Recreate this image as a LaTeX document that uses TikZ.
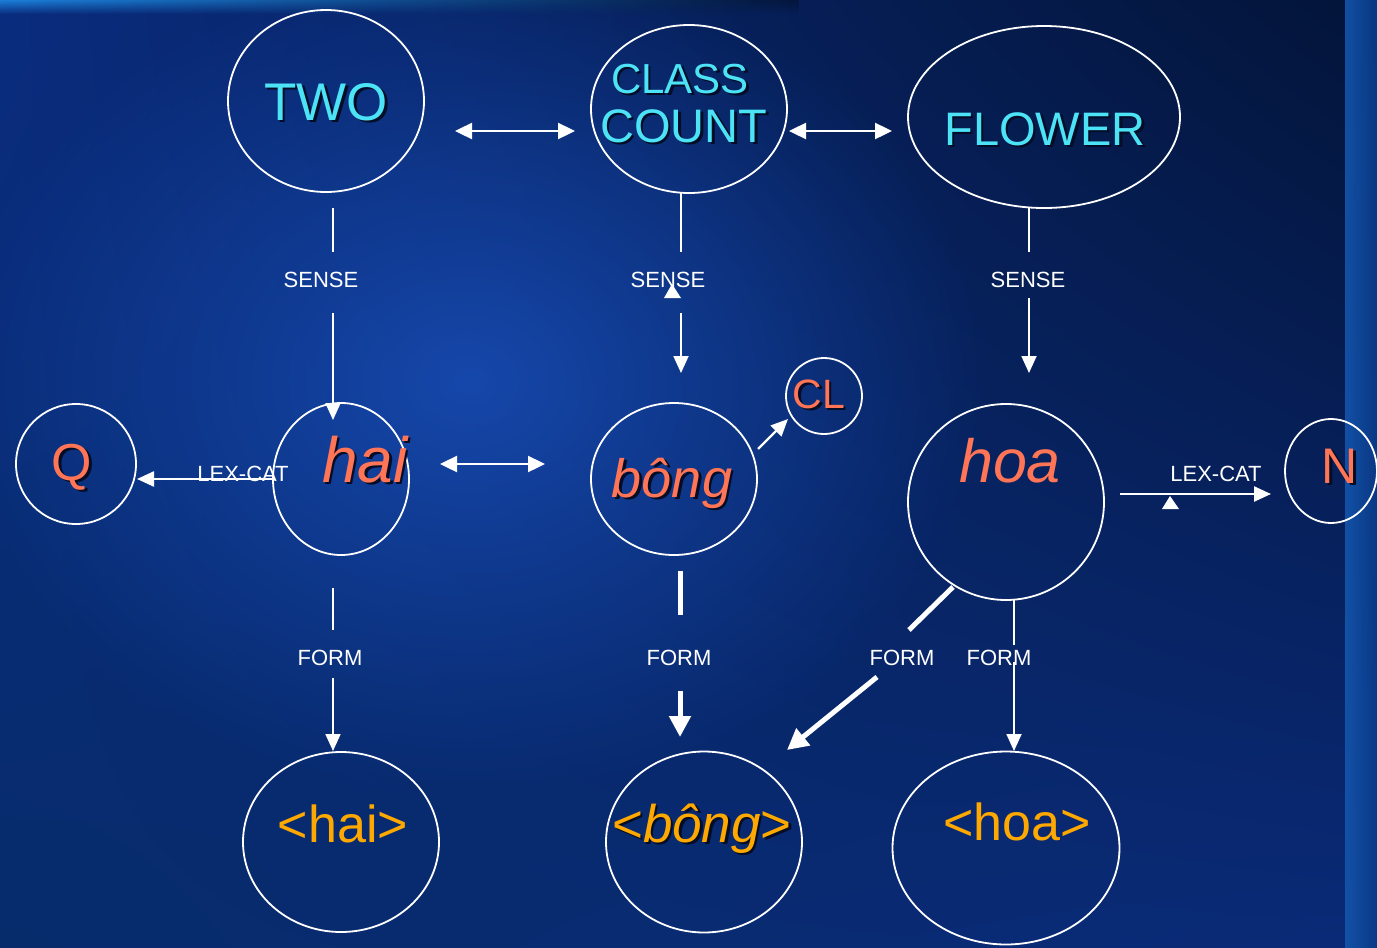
\documentclass[tikz,border=0pt]{standalone}
\usepackage{fontspec}
\setmainfont{Liberation Sans}
\usetikzlibrary{shapes.geometric,arrows.meta,shadings,fadings}
\definecolor{cyant}{HTML}{4DE3F7}
\definecolor{coral}{HTML}{FF7556}
\definecolor{amber}{HTML}{FFA800}
\definecolor{shadowc}{HTML}{040C26}
\definecolor{bgUL}{HTML}{0A2C7E}
\definecolor{bgUR}{HTML}{031438}
\definecolor{bgLL}{HTML}{072C6C}
\definecolor{bgLR}{HTML}{0A2A78}
\definecolor{glow}{HTML}{1A52C0}
\definecolor{topstrip}{HTML}{1E8CE8}
\definecolor{rightstrip}{HTML}{1456AE}
\definecolor{rightstripB}{HTML}{0A3A88}
\tikzfading[name=myglow, inner color=transparent!0, outer color=transparent!100]
\newcommand\shd[1]{\makebox[0pt][l]{\hspace{2.5pt}\raisebox{-2.5pt}{\textcolor{shadowc}{#1}}}#1}
\newcommand\fs[1]{\fontsize{#1}{#1}\selectfont}
\tikzset{
  oval/.style={ellipse, draw=white, line width=1.8pt, inner sep=0pt},
  lbl/.style={text=white, font=\fs{22}, anchor=base, inner sep=0pt},
  word/.style={anchor=base, inner sep=0pt},
  conn/.style={draw=white, line width=2.4pt},
  thin conn/.style={draw=white, line width=1.8pt},
  thick conn/.style={draw=white, line width=5pt},
  tip/.style={-{Triangle[length=17pt,width=15pt]}},
  bitip/.style={{Triangle[length=17pt,width=16pt]}-{Triangle[length=17pt,width=16pt]}},
  bigtip/.style={-{Triangle[length=21pt,width=21pt]}},
}
\begin{document}
\begin{tikzpicture}[x=1pt,y=-1pt]
\useasboundingbox (0,0) rectangle (1377,948);
% background
\shade[upper left=bgUL, upper right=bgUR, lower left=bgLL, lower right=bgLR] (0,0) rectangle (1377,948);
\fill[glow, opacity=0.75, path fading=myglow] (470,380) ellipse (520 and 420);
\shade[left color=topstrip, right color=bgUR, opacity=0.85, path fading=south] (0,0) rectangle (800,14);
\shade[left color=rightstrip, right color=rightstripB, opacity=0.9] (1345,0) rectangle (1377,948);

% ellipses
\node[oval, minimum width=196pt, minimum height=182pt] (TWO) at (326,101) {};
\node[oval, minimum width=196pt, minimum height=168pt] (CC) at (689,109) {};
\node[oval, minimum width=272pt, minimum height=182pt] (FLOWER) at (1044,117) {};
\node[oval, minimum width=120pt, minimum height=120pt] (Q) at (76,464) {};
\node[oval, minimum width=136pt, minimum height=152pt] (hai) at (341,479) {};
\node[oval, minimum width=166pt, minimum height=152pt] (bong) at (674,479) {};
\node[oval, minimum width=76pt, minimum height=76pt] (CL) at (824,396) {};
\node[oval, minimum width=196pt, minimum height=196pt] (hoa) at (1006,502) {};
\node[oval, minimum width=92pt, minimum height=104pt] (N) at (1331,471) {};
\node[oval, minimum width=196pt, minimum height=180pt] (fhai) at (341,842) {};
\node[oval, minimum width=196pt, minimum height=181pt] (fbong) at (704,842) {};
\node[oval, minimum width=227pt, minimum height=193pt] (fhoa) at (1006,848) {};

% texts
\node[word, text=cyant, font=\fs{53}] (tTWO) at (326,120) {\shd{TWO}};
\node[word, text=cyant, font=\fs{42}] (tCLASS) at (680,93) {\shd{CLASS}};
\node[word, text=cyant, font=\fs{47}] (tCOUNT) at (684,142) {\shd{COUNT}};
\node[word, text=cyant, font=\fs{47}] (tFLOWER) at (1045,145) {\shd{FLOWER}};
\node[word, text=coral, font=\fs{52}] (tQ) at (72,480) {\shd{Q}};
\node[word, text=coral, font=\itshape\fs{64}] (thai) at (365,482) {\shd{hai}};
\node[word, text=coral, font=\itshape\fs{54}] (tbong) at (672,497) {\shd{bông}};
\node[word, text=coral, font=\fs{41}] (tCL) at (819,408) {\shd{CL}};
\node[word, text=coral, font=\itshape\fs{61}] (thoa) at (1010,482) {hoa};
\node[word, text=coral, font=\fs{50}] (tN) at (1340,483) {\shd{N}};
\node[word, text=amber, font=\fs{52}] (tfhai) at (343,842) {<hai>};
\node[word, text=amber, font=\fs{53}] (tfbong) at (702,842) {\shd{<\textit{bông}>}};
\node[word, text=amber, font=\fs{52}] (tfhoa) at (1017,840) {<hoa>};

% relation labels
\node[lbl] (s1) at (321,287) {SENSE};
\node[lbl] (s2) at (668,287) {SENSE};
\node[lbl] (s3) at (1028,287) {SENSE};
\node[lbl] (lc1) at (243,481) {LEX-CAT};
\node[lbl] (lc2) at (1216,481) {LEX-CAT};
\node[lbl] (f1) at (330,665) {FORM};
\node[lbl] (f2) at (679,665) {FORM};
\node[lbl] (f3) at (902,665) {FORM};
\node[lbl] (f4) at (999,665) {FORM};

% coordinates for connector ends
\coordinate (a1) at (455,131); \coordinate (a2) at (575,131);
\coordinate (b1) at (789,131); \coordinate (b2) at (892,131);
\coordinate (s1a) at (333,208); \coordinate (s1b) at (333,252);
\coordinate (s1c) at (333,313); \coordinate (s1d) at (333,420);
\coordinate (s2a) at (681,193); \coordinate (s2b) at (681,252);
\coordinate (s2c) at (681,313); \coordinate (s2d) at (681,373);
\coordinate (s3a) at (1029,208); \coordinate (s3b) at (1029,252);
\coordinate (s3c) at (1029,298); \coordinate (s3d) at (1029,373);
\coordinate (q1) at (273,479); \coordinate (q2) at (137,479);
\coordinate (hb1) at (440,464); \coordinate (hb2) at (545,464);
\coordinate (cl1) at (758,449); \coordinate (cl2) at (788,419);
\coordinate (n1) at (1120,494); \coordinate (n2) at (1271,494);
\coordinate (f1a) at (333,588); \coordinate (f1b) at (333,630);
\coordinate (f1c) at (333,678); \coordinate (f1d) at (333,751);
\coordinate (f2a) at (680,571); \coordinate (f2b) at (680,615);
\coordinate (f2c) at (680,691); \coordinate (f2d) at (680,737);
\coordinate (f3a) at (953,587); \coordinate (f3b) at (909,630);
\coordinate (f3c) at (877,677); \coordinate (f3d) at (787,750);
\coordinate (f4a) at (1014,600); \coordinate (f4b) at (1014,645);
\coordinate (f4c) at (1014,662); \coordinate (f4d) at (1014,751);

% connectors
\draw[conn, bitip] (a1) -- (a2);
\draw[conn, bitip] (b1) -- (b2);
\draw[thin conn] (s1a) -- (s1b);
\draw[thin conn, tip] (s1c) -- (s1d);
\draw[thin conn] (s2a) -- (s2b);
\draw[thin conn, tip] (s2c) -- (s2d);
\draw[thin conn] (s3a) -- (s3b);
\draw[thin conn, tip] (s3c) -- (s3d);
\draw[conn, tip] (q1) -- (q2);
\draw[conn, bitip] (hb1) -- (hb2);
\draw[conn, tip] (cl1) -- (cl2);
\draw[conn, tip] (n1) -- (n2);
\draw[thin conn] (f1a) -- (f1b);
\draw[thin conn, tip] (f1c) -- (f1d);
\draw[thick conn] (f2a) -- (f2b);
\draw[thick conn, bigtip] (f2c) -- (f2d);
\draw[thick conn] (f3a) -- (f3b);
\draw[thick conn, bigtip] (f3c) -- (f3d);
\draw[thin conn] (f4a) -- (f4b);
\draw[thin conn, tip] (f4c) -- (f4d);

% small triangle marks
\fill[white] (664,298) -- (681,298) -- (672,284) -- cycle;
\fill[white] (1162,509) -- (1179,509) -- (1170,496) -- cycle;
\end{tikzpicture}
\end{document}
